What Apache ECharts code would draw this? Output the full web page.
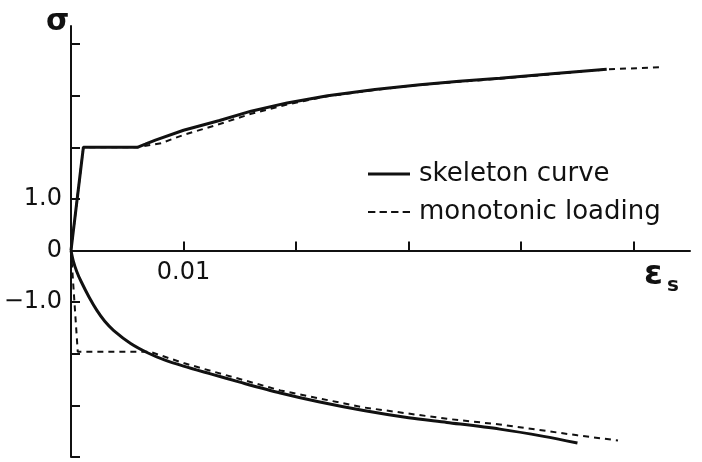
<!DOCTYPE html>
<html>
<head>
<meta charset="utf-8">
<script src="https://cdn.jsdelivr.net/npm/echarts@6/dist/echarts.min.js"></script>
<style>
  html, body { margin: 0; padding: 0; background: #fff; }
  #chart { width: 702px; height: 462px; }
</style>
</head>
<body>
<div id="chart"></div>
<script>
// strain (eps_s) and stress (sigma)
const skeletonUpperX = [0, 0.0011, 0.0059, 0.0066, 0.0075, 0.0100, 0.0132, 0.0160, 0.0192, 0.0228, 0.0270, 0.0310, 0.0345, 0.0381, 0.0430, 0.0476];
const skeletonUpperY = [0, 2.0, 2.0, 2.06, 2.14, 2.33, 2.52, 2.70, 2.86, 3.00, 3.12, 3.21, 3.28, 3.34, 3.43, 3.51];
const skeletonLowerX = [0, 0.0002, 0.0005, 0.0009, 0.0016, 0.0023, 0.0030, 0.0038, 0.0053, 0.0068, 0.0083, 0.0100, 0.0124, 0.0150, 0.0186, 0.0220, 0.0260, 0.0300, 0.0334, 0.0381, 0.0420, 0.0450];
const skeletonLowerY = [0, -0.20, -0.40, -0.60, -0.90, -1.16, -1.37, -1.55, -1.80, -1.98, -2.12, -2.24, -2.39, -2.55, -2.76, -2.93, -3.10, -3.24, -3.33, -3.46, -3.60, -3.73];

const monotonicUpperX = [0, 0.0011, 0.0059, 0.0080, 0.0100, 0.0132, 0.0160, 0.0192, 0.0228, 0.0270, 0.0310, 0.0381, 0.0430, 0.0476, 0.0524];
const monotonicUpperY = [0, 2.0, 2.0, 2.08, 2.24, 2.45, 2.65, 2.83, 2.99, 3.11, 3.21, 3.33, 3.42, 3.51, 3.55];
const monotonicLowerX = [0, 0.0006, 0.0070, 0.0100, 0.0124, 0.0186, 0.0260, 0.0334, 0.0381, 0.0450, 0.0486];
const monotonicLowerY = [0, -1.96, -1.96, -2.18, -2.33, -2.71, -3.04, -3.26, -3.37, -3.58, -3.68];

const xTicks = [0.01, 0.02, 0.03, 0.04, 0.05];
const xLabels = [0.01];
const yTicks = [-4, -3, -2, -1, 0, 1, 2, 3, 4];
const yLabels = [-1, 0, 1];

const ink = "#111";
const font = "'DejaVu Sans', sans-serif";

const pairs = (xs, ys) => xs.map((x, i) => [x, ys[i]]);

const chart = echarts.init(document.getElementById("chart"));

const dashedLine = { color: ink, width: 2, type: [6, 5] };
const solidLine = { color: ink, width: 3 };

// grid: top 26, bottom 5 -> plot height 431; x axis moved up to the zero line
const yMin = -4;
const yMax = 4.35;
const plotH = 462 - 26 - 5;
const zeroOffset = -plotH * (0 - yMin) / (yMax - yMin);

chart.setOption({
  animation: false,
  backgroundColor: "#fff",
  grid: { left: 71, right: 12, top: 26, bottom: 5, outerBoundsMode: "none" },
  xAxis: {
    type: "value",
    min: 0,
    max: 0.055,
    interval: 0.01,
    position: "bottom",
    offset: zeroOffset,
    axisLine: { onZero: false, lineStyle: { color: ink, width: 2 } },
    axisTick: {
      inside: true,
      length: 9,
      customValues: xTicks,
      lineStyle: { color: ink, width: 2 },
    },
    axisLabel: {
      customValues: xLabels,
      color: ink,
      fontFamily: font,
      fontSize: 24,
      margin: 10,
      formatter: (v) => String(v),
    },
    splitLine: { show: false },
  },
  yAxis: {
    type: "value",
    min: yMin,
    max: yMax,
    interval: 1,
    axisLine: { lineStyle: { color: ink, width: 2 } },
    axisTick: {
      inside: true,
      length: 9,
      customValues: yTicks,
      lineStyle: { color: ink, width: 2 },
    },
    axisLabel: {
      customValues: yLabels,
      color: ink,
      fontFamily: font,
      fontSize: 24,
      margin: 9,
      formatter: (v) => (v === 0 ? "0" : v.toFixed(1).replace("-", "\u2212")),
    },
    splitLine: { show: false },
  },
  legend: {
    orient: "vertical",
    left: 368,
    top: 161,
    itemWidth: 42,
    itemHeight: 14,
    itemGap: 12,
    padding: 0,
    data: [
      { name: "skeleton curve", icon: "path://M0,0h42v3h-42z" },
      { name: "monotonic loading", icon: "path://M0,0h7v2h-7z M11,0h7v2h-7z M22,0h7v2h-7z M33,0h7v2h-7z" },
    ],
    textStyle: {
      color: ink,
      fontFamily: font,
      fontSize: 26,
      padding: [0, 0, 0, 4],
    },
  },
  graphic: [
    {
      type: "text",
      left: 46,
      top: 7,
      style: { text: "σ", fill: ink, font: "bold 30px 'DejaVu Sans'" },
    },
    {
      type: "text",
      left: 644,
      top: 258,
      style: { text: "ε", fill: ink, font: "bold 34px 'DejaVu Sans'" },
    },
    {
      type: "text",
      left: 667,
      top: 276,
      style: { text: "s", fill: ink, font: "bold 20px 'DejaVu Sans'" },
    },
  ],
  series: [
    {
      name: "monotonic loading",
      type: "line",
      symbol: "none",
      lineStyle: dashedLine,
      itemStyle: { color: ink },
      data: pairs(monotonicUpperX, monotonicUpperY),
    },
    {
      name: "monotonic loading",
      type: "line",
      symbol: "none",
      lineStyle: dashedLine,
      itemStyle: { color: ink },
      data: pairs(monotonicLowerX, monotonicLowerY),
    },
    {
      name: "skeleton curve",
      type: "line",
      symbol: "none",
      lineStyle: solidLine,
      itemStyle: { color: ink },
      data: pairs(skeletonUpperX, skeletonUpperY),
    },
    {
      name: "skeleton curve",
      type: "line",
      symbol: "none",
      smooth: 0.3,
      lineStyle: solidLine,
      itemStyle: { color: ink },
      data: pairs(skeletonLowerX, skeletonLowerY),
    },
  ],
});

window.addEventListener("resize", () => chart.resize());
</script>
</body>
</html>
